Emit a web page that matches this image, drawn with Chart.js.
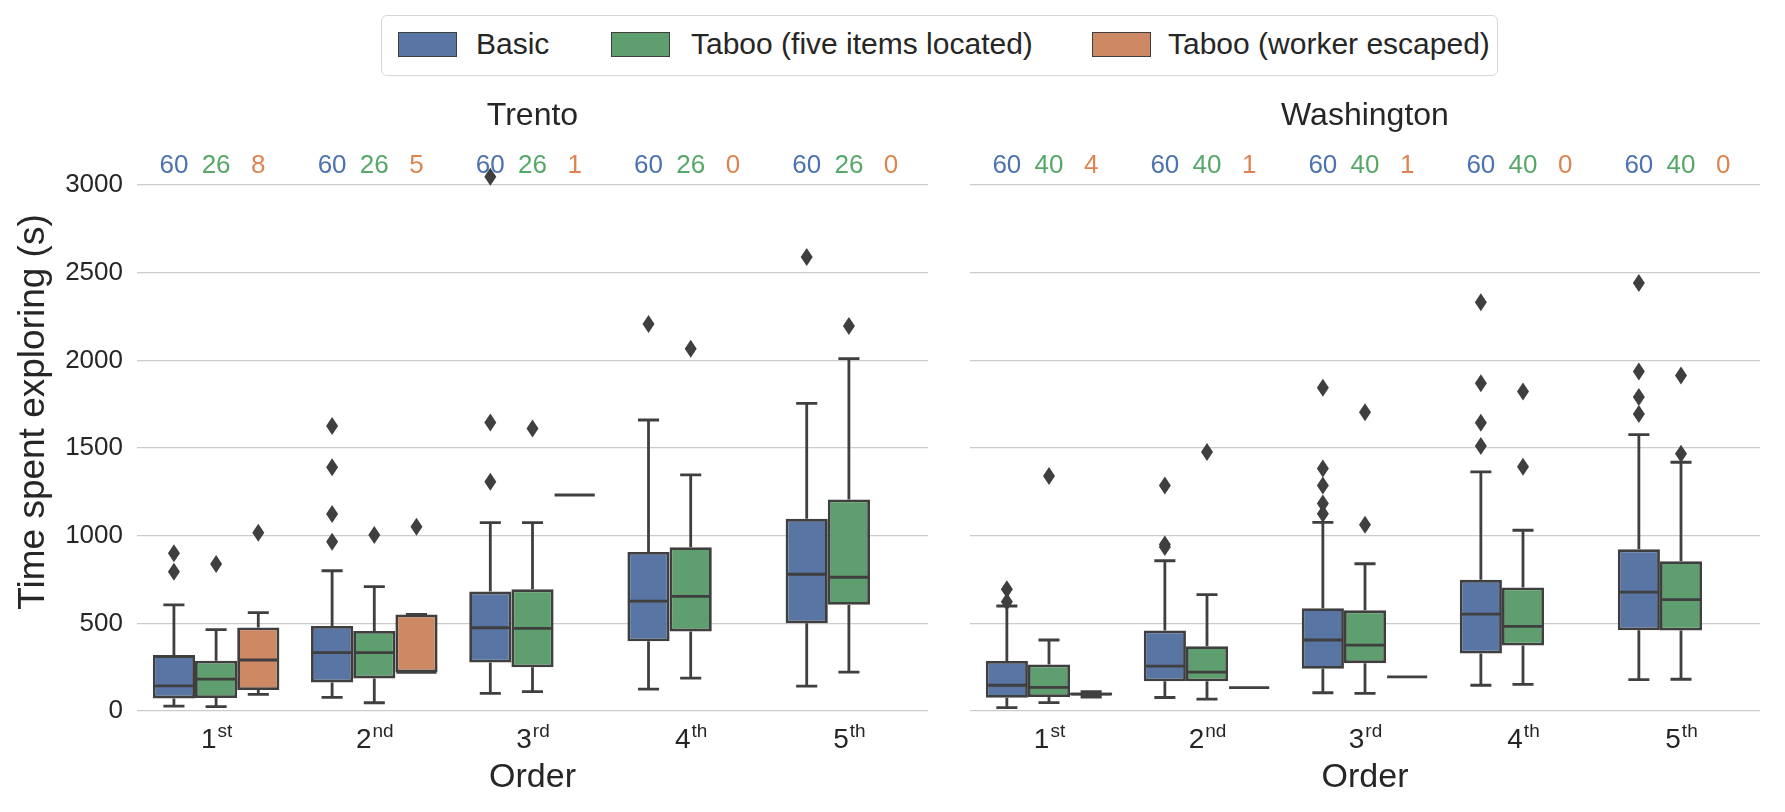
<!DOCTYPE html>
<html>
<head>
<meta charset="utf-8">
<script src="https://cdn.jsdelivr.net/npm/chart.js@4.4.1/dist/chart.umd.min.js"></script>
<style>
  html, body { margin: 0; padding: 0; background: #fff; }
  #wrap { position: relative; width: 1785px; height: 812px; font-family: 'Liberation Sans', Arial, sans-serif; }
  canvas { position: absolute; top: 0; }
  #left { left: 0; }
  #right { left: 945px; }
  #legend { position: absolute; left: 381px; top: 15px; width: 1117px; height: 61px; box-sizing: border-box;
            border: 1.5px solid #d6d6d6; border-radius: 6px; background: #fff; z-index: 2; }
  .patch { position: absolute; top: 16px; width: 59px; height: 25px; box-sizing: border-box; border: 1.5px solid #3f3f3f; }
  .lbl { position: absolute; top: 11px; font-size: 30px; line-height: 34px; color: #262626; white-space: nowrap; }
</style>
</head>
<body>
<div id="wrap">
  <canvas id="left" width="945" height="812"></canvas>
  <canvas id="right" width="840" height="812"></canvas>
  <div id="legend"></div>
</div>
<script>
const orderNum = ['1', '2', '3', '4', '5'];
const orderSuffix = ['st', 'nd', 'rd', 'th', 'th'];
const seriesNames = ['Basic', 'Taboo (five items located)', 'Taboo (worker escaped)'];
const boxColors = ['#5875a4', '#5f9e6e', '#cc8963'];
const countColors = ['#4c72b0', '#55a868', '#dd8452'];
const yTicks = [0, 500, 1000, 1500, 2000, 2500, 3000];

// [lower whisker, q1, median, q3, upper whisker] for each order
const trentoBasic = [[28, 72, 143, 319, 605], [78, 163, 333, 485, 800], [101, 276, 475, 681, 1074], [125, 398, 627, 907, 1660], [142, 500, 780, 1096, 1755]];
const trentoFive = [[25, 74, 182, 287, 464], [47, 186, 333, 456, 709], [110, 249, 471, 694, 1074], [188, 454, 654, 934, 1347], [222, 606, 763, 1207, 2010]];
const trentoEscaped = [[95, 120, 291, 477, 561], [221, 221, 221, 551, 551], [1232, 1232, 1232, 1232, 1232], null, null];
const trentoBasicOut = [[900, 795], [1625, 1390, 1124, 966], [3048, 1645, 1308], [2208], [2590]];
const trentoFiveOut = [[838], [1004], [1612], [2066], [2196]];
const trentoEscapedOut = [[1017], [1051], [], [], []];
const trentoBasicN = [60, 60, 60, 60, 60];
const trentoFiveN = [26, 26, 26, 26, 26];
const trentoEscapedN = [8, 5, 1, 0, 0];

const washBasic = [[19, 75, 147, 285, 599], [77, 169, 256, 459, 857], [104, 241, 405, 586, 1076], [147, 328, 553, 748, 1364], [179, 461, 678, 922, 1576]];
const washFive = [[48, 80, 135, 265, 405], [68, 169, 222, 369, 664], [101, 273, 376, 574, 840], [152, 374, 483, 705, 1031], [181, 459, 635, 854, 1419]];
const washEscaped = [[80, 88, 96, 106, 110], [133, 133, 133, 133, 133], [195, 195, 195, 195, 195], null, null];
const washBasicOut = [[695, 623], [1286, 950, 936], [1844, 1383, 1286, 1183, 1125], [2331, 1870, 1644, 1511], [2442, 1936, 1791, 1694]];
const washFiveOut = [[1340], [1477], [1704, 1062], [1822, 1393], [1914, 1467]];
const washEscapedOut = [[], [], [], [], []];
const washBasicN = [60, 60, 60, 60, 60];
const washFiveN = [40, 40, 40, 40, 40];
const washEscapedN = [4, 1, 1, 0, 0];

const edge = '#3f3f3f';
const textColor = '#262626';
const fontFamily = "'Liberation Sans', Arial, sans-serif";
const countY = 3110;

Chart.defaults.font.family = fontFamily;

// whiskers, caps, medians, outliers, counts, panel title and order labels
const boxExtras = {
  id: 'boxExtras',
  afterDatasetsDraw(chart, args, opts) {
    const ctx = chart.ctx;
    const y = chart.scales.y;
    ctx.save();
    ctx.strokeStyle = edge;
    ctx.fillStyle = edge;
    ctx.lineWidth = 2.8;
    opts.stats.forEach((series, d) => {
      const meta = chart.getDatasetMeta(d);
      series.forEach((s, i) => {
        const el = meta.data[i];
        const x = el.x, w = el.width;
        if (s) {
          const [lo, q1, med, q3, hi] = s.map(v => y.getPixelForValue(v));
          ctx.beginPath();
          ctx.moveTo(x, q3); ctx.lineTo(x, hi);
          ctx.moveTo(x, q1); ctx.lineTo(x, lo);
          ctx.moveTo(x - w / 4, hi); ctx.lineTo(x + w / 4, hi);
          ctx.moveTo(x - w / 4, lo); ctx.lineTo(x + w / 4, lo);
          ctx.moveTo(x - w / 2 + 1, med); ctx.lineTo(x + w / 2 - 1, med);
          ctx.stroke();
        }
        opts.outliers[d][i].forEach(v => {
          const py = y.getPixelForValue(v);
          ctx.beginPath();
          ctx.moveTo(x, py - 9); ctx.lineTo(x + 6, py);
          ctx.lineTo(x, py + 9); ctx.lineTo(x - 6, py);
          ctx.closePath();
          ctx.fill();
        });
      });
    });
    ctx.restore();
  },
  afterDraw(chart, args, opts) {
    const ctx = chart.ctx;
    const area = chart.chartArea;
    const xs = chart.scales.x, y = chart.scales.y;
    ctx.save();
    ctx.textBaseline = 'middle';
    ctx.textAlign = 'center';
    ctx.fillStyle = textColor;
    ctx.font = '32px ' + fontFamily;
    ctx.fillText(opts.title, (area.left + area.right) / 2, 116);

    if (opts.yTitle) {
      ctx.save();
      ctx.translate(34, 412);
      ctx.rotate(-Math.PI / 2);
      ctx.font = '37px ' + fontFamily;
      ctx.fillText(opts.yTitle, 0, 0);
      ctx.restore();
    }

    ctx.font = '26px ' + fontFamily;
    const cy = y.getPixelForValue(countY);
    opts.counts.forEach((arr, d) => {
      const meta = chart.getDatasetMeta(d);
      ctx.fillStyle = countColors[d];
      arr.forEach((n, i) => ctx.fillText(String(n), meta.data[i].x, cy));
    });

    ctx.textAlign = 'left';
    ctx.textBaseline = 'alphabetic';
    ctx.fillStyle = textColor;
    orderNum.forEach((num, i) => {
      const cx = xs.getPixelForValue(i);
      ctx.font = '28px ' + fontFamily;
      const w1 = ctx.measureText(num).width;
      ctx.font = '19px ' + fontFamily;
      const w2 = ctx.measureText(orderSuffix[i]).width;
      const x0 = cx - (w1 + w2) / 2;
      ctx.font = '28px ' + fontFamily;
      ctx.fillText(num, x0, 748);
      ctx.font = '19px ' + fontFamily;
      ctx.fillText(orderSuffix[i], x0 + w1 + 1, 737);
    });
    ctx.restore();
  }
};

function makeChart(id, cfg) {
  return new Chart(document.getElementById(id), {
    type: 'bar',
    data: {
      labels: orderNum,
      datasets: seriesNames.map((name, d) => ({
        label: name,
        data: cfg.stats[d].map(s => (s ? [s[1], s[3]] : null)),
        backgroundColor: boxColors[d],
        borderColor: edge,
        borderWidth: 2.8,
        borderSkipped: false,
        categoryPercentage: 0.8,
        barPercentage: 1.0
      }))
    },
    options: {
      responsive: false,
      animation: false,
      devicePixelRatio: 1,
      layout: { padding: { left: 0, right: cfg.padRight, top: 150, bottom: 0 } },
      plugins: {
        legend: { display: false },
        tooltip: { enabled: false },
        boxExtras: cfg
      },
      scales: {
        x: {
          grid: { display: false },
          border: { display: false },
          ticks: { display: false },
          afterFit: s => { s.height = 101; },
          title: {
            display: true, text: 'Order', color: textColor,
            font: { size: 34, family: fontFamily, lineHeight: 1 },
            padding: { top: 0, bottom: 17 }
          }
        },
        y: {
          min: 0,
          max: 3200,
          afterBuildTicks: s => { s.ticks = yTicks.map(v => ({ value: v })); },
          ticks: {
            display: cfg.showTicks,
            callback: v => String(v),
            color: textColor, font: { size: 26, family: fontFamily }, padding: 14
          },
          grid: { color: '#cccccc', lineWidth: 1.3, drawTicks: false },
          border: { display: false },
          afterFit: s => { s.width = cfg.yWidth; }
        }
      }
    },
    plugins: [boxExtras]
  });
}

makeChart('left', {
  title: 'Trento',
  yTitle: 'Time spent exploring (s)',
  stats: [trentoBasic, trentoFive, trentoEscaped],
  outliers: [trentoBasicOut, trentoFiveOut, trentoEscapedOut],
  counts: [trentoBasicN, trentoFiveN, trentoEscapedN],
  showTicks: true, yWidth: 137, padRight: 17
});

makeChart('right', {
  title: 'Washington',
  yTitle: null,
  stats: [washBasic, washFive, washEscaped],
  outliers: [washBasicOut, washFiveOut, washEscapedOut],
  counts: [washBasicN, washFiveN, washEscapedN],
  showTicks: false, yWidth: 25, padRight: 25
});

// legend across both panels
const legend = document.getElementById('legend');
const patchX = [16, 229, 710];
const textX = [94, 309, 786];
seriesNames.forEach((name, d) => {
  const p = document.createElement('div');
  p.className = 'patch';
  p.style.left = patchX[d] + 'px';
  p.style.background = boxColors[d];
  legend.appendChild(p);
  const t = document.createElement('div');
  t.className = 'lbl';
  t.style.left = textX[d] + 'px';
  t.textContent = name;
  legend.appendChild(t);
});
</script>
</body>
</html>
